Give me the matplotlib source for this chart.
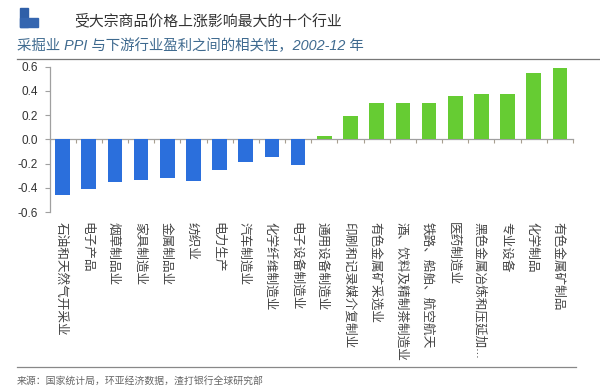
import matplotlib
matplotlib.use("Agg")
import matplotlib.pyplot as plt
from matplotlib.patches import Rectangle
from matplotlib.lines import Line2D
from matplotlib.transforms import ScaledTranslation
import numpy as np

plt.rcParams['font.family'] = ['Liberation Sans', 'Noto Sans CJK SC', 'DejaVu Sans']

labels = ["石油和天然气开采业", "电子产品", "烟草制品业", "家具制造业", "金属制品业",
          "纺织业", "电力生产", "汽车制造业", "化学纤维制造业", "电子设备制造业",
          "通用设备制造业", "印刷和记录媒介复制业", "有色金属矿采选业", "酒、饮料及精制茶制造业",
          "铁路、船舶、航空航天", "医药制造业", "黑色金属冶炼和压延加...", "专业设备",
          "化学制品", "有色金属矿制品"]
values = [-0.457, -0.407, -0.355, -0.333, -0.317, -0.341, -0.25, -0.184, -0.149, -0.209,
          0.028, 0.19, 0.30, 0.303, 0.303, 0.36, 0.374, 0.377, 0.545, 0.589]
yticks = [-0.6, -0.4, -0.2, 0.0, 0.2, 0.4, 0.6]

W, H = 600, 392
fig = plt.figure(figsize=(W/100, H/100), dpi=100)

def px_axes(l, t, r, b):
    return [l/W, 1-b/H, (r-l)/W, (b-t)/H]

ax = fig.add_axes(px_axes(49.5, 66.7, 573, 212))
x = np.arange(len(values))
colors = ["#2b6fdc" if v < 0 else "#66cc33" for v in values]
ax.bar(x, values, 0.56, color=colors, zorder=3)
ax.set_xlim(-0.5, len(values)-0.5)
ax.set_ylim(-0.6, 0.6)

ax.set_yticks(yticks)
ax.set_yticklabels(["%.1f" % t for t in yticks], fontsize=8.5, color="#333333")
ax.tick_params(axis="y", length=3.6, width=0.8, color="#a0a0a0", pad=4.5)

ax.set_xticks(x)
ax.set_xticklabels(labels, rotation=270, fontsize=9.1, color="#444444", ha="center", va="top")
ax.tick_params(axis="x", length=0, pad=7)
shift = ScaledTranslation(-2/100, 0, fig.dpi_scale_trans)
for t in ax.get_xticklabels():
    t.set_transform(t.get_transform() + shift)

for s in ["top", "right", "bottom"]:
    ax.spines[s].set_visible(False)
ax.spines["left"].set_color("#a0a0a0")
ax.spines["left"].set_linewidth(0.9)

# zero line with ticks between the categories
zero = ax.secondary_xaxis(0.5)
zero.set_xticks(np.arange(len(values)+1)-0.5)
zero.set_xticklabels([])
zero.tick_params(axis="x", direction="out", length=3, width=0.8, color="#a89f90", top=False, bottom=True)
zero.spines["bottom"].set_visible(False)
zero.spines["top"].set_color("#a0a0a0")
zero.spines["top"].set_linewidth(0.9)

# logo
fig.add_artist(Rectangle((20/W, 1-27/H), 8/W, 19/H, color="#2f5fa8", transform=fig.transFigure))
fig.add_artist(Rectangle((20/W, 1-27/H), 18/W, 9/H, color="#3566b0", transform=fig.transFigure))

# title and rules
fig.text(74/W, 1-21/H, "受大宗商品价格上涨影响最大的十个行业", fontsize=10.7, color="#333333", va="center")
fig.text(17/W, 1-46/H, "采掘业 PPI 与下游行业盈利之间的相关性，2002-12 年", fontsize=10.4,
         color="#3f6a8f", style="italic", va="center")
fig.add_artist(Line2D([17/W, 1], [1-59/H, 1-59/H], color="#777777", lw=0.9))
fig.add_artist(Line2D([17/W, 576/W], [1-367/H, 1-367/H], color="#888888", lw=0.9))
fig.text(17/W, 1-381/H, "来源：国家统计局，环亚经济数据，渣打银行全球研究部", fontsize=7.1, color="#666666", va="center")

fig.savefig("out.png", dpi=100)
